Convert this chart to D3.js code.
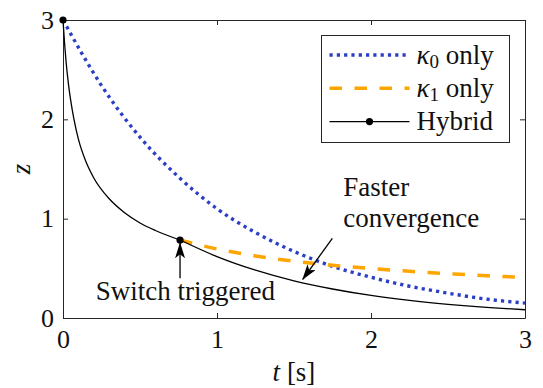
<!DOCTYPE html>
<html>
<head>
<meta charset="utf-8">
<script src="https://cdn.jsdelivr.net/npm/d3@7"></script>
</head>
<body style="margin:0">
<script>

// kappa_0 only (blue dotted)
var k0T = [0, 0.25, 0.5, 0.75, 1.0, 1.25, 1.5, 1.75, 2.0, 2.25, 2.5, 2.75, 3.0];
var k0Z = [3.00, 2.34, 1.82, 1.42, 1.10, 0.86, 0.67, 0.52, 0.41, 0.32, 0.25, 0.19, 0.15];

// kappa_1 only (orange dashed), drawn from the switch on
var k1T = [0.76, 1.0, 1.25, 1.5, 1.75, 2.0, 2.25, 2.5, 2.75, 3.0];
var k1Z = [0.785, 0.695, 0.625, 0.572, 0.531, 0.498, 0.470, 0.447, 0.426, 0.409];

// hybrid (black)
var hybT = [0, 0.01, 0.02, 0.035, 0.05, 0.07, 0.1, 0.15, 0.2, 0.3, 0.4, 0.5, 0.6, 0.76,
            1.0, 1.25, 1.5, 1.75, 2.0, 2.25, 2.5, 2.75, 3.0];
var hybZ = [3.0, 2.77, 2.58, 2.36, 2.19, 2.01, 1.80, 1.57, 1.41, 1.20, 1.06, 0.957, 0.881, 0.785,
            0.618, 0.481, 0.374, 0.292, 0.227, 0.177, 0.138, 0.107, 0.083];
var switchT = 0.76;

// markers on the hybrid line
var markT = [0, 0.76];
var markZ = [3.0, 0.785];

var xTicks = [0, 1, 2, 3];
var yTicks = [0, 1, 2, 3];

var W = 543, H = 388;
var margin = {left: 63, right: 18, top: 20, bottom: 70};
var fs = 27;
var ink = "#111";

var svg = d3.select("body").append("svg")
  .attr("width", W).attr("height", H)
  .style("font-family", "'Liberation Serif'");

var x = d3.scaleLinear().domain([0, 3]).range([margin.left, W - margin.right]);
var y = d3.scaleLinear().domain([0, 3]).range([H - margin.bottom, margin.top]);

var axisColor = "#262626";

function label(sel) {
  return sel.style("font-family", "'Liberation Serif'").attr("fill", ink);
}

//axes, ticks inward on all four sides
var gx = svg.append("g").attr("transform", "translate(0," + y(0) + ")")
  .call(d3.axisBottom(x).tickValues(xTicks).tickFormat(d3.format("d")).tickSizeInner(-5).tickSizeOuter(0).tickPadding(12));
var gy = svg.append("g").attr("transform", "translate(" + x(0) + ",0)")
  .call(d3.axisLeft(y).tickValues(yTicks).tickFormat(d3.format("d")).tickSizeInner(-5).tickSizeOuter(0).tickPadding(9));
var gt = svg.append("g").attr("transform", "translate(0," + y(3) + ")")
  .call(d3.axisTop(x).tickValues(xTicks).tickFormat("").tickSizeInner(-5).tickSizeOuter(0));
var gr = svg.append("g").attr("transform", "translate(" + x(3) + ",0)")
  .call(d3.axisRight(y).tickValues(yTicks).tickFormat("").tickSizeInner(-5).tickSizeOuter(0));

[gx, gy, gt, gr].forEach(function(g) {
  g.attr("font-family", null);
  g.select(".domain").attr("stroke", axisColor).attr("stroke-width", 1);
  g.selectAll(".tick line").attr("stroke", axisColor).attr("stroke-width", 1);
  label(g.selectAll(".tick text")).attr("font-size", 26);
});

//axis labels
var xl = label(svg.append("text"))
  .attr("x", (x(0) + x(3)) / 2).attr("y", 381)
  .attr("text-anchor", "middle").attr("font-size", fs);
xl.append("tspan").attr("font-style", "italic").text("t");
xl.append("tspan").text(" [s]");

label(svg.append("text"))
  .attr("transform", "translate(30," + y(1.5) + ") rotate(-90)")
  .attr("text-anchor", "middle")
  .attr("font-size", fs).attr("font-style", "italic")
  .text("z");

var line = d3.line().curve(d3.curveMonotoneX);

function pts(ts, zs) {
  return ts.map(function(t, i) { return [x(t), y(zs[i])]; });
}

var blue = "#2b3ec6", orange = "#ffa500";

svg.append("path")
  .attr("d", line(pts(k0T, k0Z)))
  .attr("fill", "none").attr("stroke", blue)
  .attr("stroke-width", 3.4).attr("stroke-dasharray", "3.2,4.1");

svg.append("path")
  .attr("d", line(pts(k1T, k1Z)))
  .attr("fill", "none").attr("stroke", orange)
  .attr("stroke-width", 3.5).attr("stroke-dasharray", "12.5,12.5");

//hybrid drawn in two pieces so the corner at the switch stays sharp
var si = hybT.indexOf(switchT);
var hp = pts(hybT, hybZ);
[hp.slice(0, si + 1), hp.slice(si)].forEach(function(seg) {
  svg.append("path")
    .attr("d", line(seg))
    .attr("fill", "none").attr("stroke", "#000").attr("stroke-width", 1.3);
});

svg.selectAll(".mark").data(markT).enter().append("circle")
  .attr("class", "mark")
  .attr("cx", function(d) { return x(d); })
  .attr("cy", function(d, i) { return y(markZ[i]); })
  .attr("r", 3.6).attr("fill", "#000");

//annotations
var defs = svg.append("defs");
defs.append("marker")
  .attr("id", "head").attr("viewBox", "0 0 16 10")
  .attr("refX", 15).attr("refY", 5)
  .attr("markerWidth", 16).attr("markerHeight", 10)
  .attr("markerUnits", "userSpaceOnUse")
  .attr("orient", "auto")
  .append("path").attr("d", "M0,0 L16,5 L0,10 L4,5 Z").attr("fill", "#000");

function arrow(t0, z0, t1, z1) {
  svg.append("line")
    .attr("x1", x(t0)).attr("y1", y(z0))
    .attr("x2", x(t1)).attr("y2", y(z1))
    .attr("stroke", "#000").attr("stroke-width", 1.3)
    .attr("marker-end", "url(#head)");
}

arrow(0.76, 0.40, 0.76, 0.752);
arrow(1.749, 0.802, 1.557, 0.39);

label(svg.append("text"))
  .attr("x", x(0.795)).attr("y", y(0.181))
  .attr("text-anchor", "middle").attr("font-size", fs)
  .text("Switch triggered");

label(svg.append("text"))
  .attr("x", x(1.82)).attr("y", y(1.228))
  .attr("font-size", fs)
  .text("Faster");
label(svg.append("text"))
  .attr("x", x(1.82)).attr("y", y(0.919))
  .attr("font-size", fs)
  .text("convergence");

//legend
var leg = svg.append("g").attr("transform", "translate(321.5,35.5)");
leg.append("rect")
  .attr("width", 188).attr("height", 107)
  .attr("fill", "#fff").attr("stroke", axisColor).attr("stroke-width", 1);

var legItems = [
  {sub: "0", rest: " only", color: blue, width: 3.4, dash: "3.2,4.1", dot: false},
  {sub: "1", rest: " only", color: orange, width: 3.5, dash: "12.5,12.5", dot: false},
  {sub: null, rest: "Hybrid", color: "#000", width: 1.3, dash: null, dot: true}
];

legItems.forEach(function(it, i) {
  var cy = 19.5 + i * 33.3;
  leg.append("line")
    .attr("x1", 8).attr("x2", 88).attr("y1", cy).attr("y2", cy)
    .attr("stroke", it.color).attr("stroke-width", it.width)
    .attr("stroke-dasharray", it.dash);
  if (it.dot) {
    leg.append("circle").attr("cx", 48).attr("cy", cy).attr("r", 3.6).attr("fill", "#000");
  }
  var tx = label(leg.append("text")).attr("x", 95).attr("y", cy + 8.5).attr("font-size", fs);
  if (it.sub !== null) {
    tx.append("tspan").attr("font-style", "italic").text("\u03ba");
    tx.append("tspan").attr("font-size", 19).attr("dy", 4).text(it.sub);
    tx.append("tspan").attr("dy", -4).text(it.rest);
  } else {
    tx.text(it.rest);
  }
});

</script>
</body>
</html>
